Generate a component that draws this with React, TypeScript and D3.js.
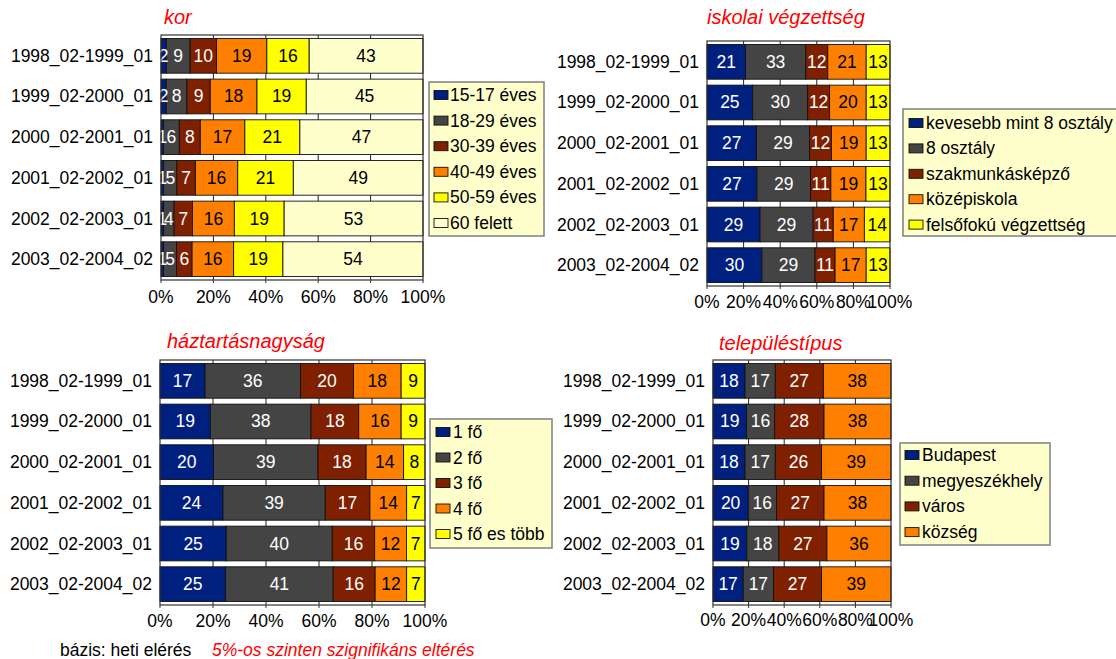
import React from "react";
import * as d3 from "d3";

const categories = [
  "1998_02-1999_01",
  "1999_02-2000_01",
  "2000_02-2001_01",
  "2001_02-2002_01",
  "2002_02-2003_01",
  "2003_02-2004_02",
];
const xTicks = [0, 0.2, 0.4, 0.6, 0.8, 1];

const korSeries = ["15-17 éves", "18-29 éves", "30-39 éves", "40-49 éves", "50-59 éves", "60 felett"];
const korValues = [
  [2, 9, 10, 19, 16, 43],
  [2, 8, 9, 18, 19, 45],
  [1, 6, 8, 17, 21, 47],
  [1, 5, 7, 16, 21, 49],
  [1, 4, 7, 16, 19, 53],
  [1, 5, 6, 16, 19, 54],
];

const iskolaSeries = ["kevesebb mint 8 osztály", "8 osztály", "szakmunkásképző", "középiskola", "felsőfokú végzettség"];
const iskolaValues = [
  [21, 33, 12, 21, 13],
  [25, 30, 12, 20, 13],
  [27, 29, 12, 19, 13],
  [27, 29, 11, 19, 13],
  [29, 29, 11, 17, 14],
  [30, 29, 11, 17, 13],
];

const haztartasSeries = ["1 fő", "2 fő", "3 fő", "4 fő", "5 fő es több"];
const haztartasValues = [
  [17, 36, 20, 18, 9],
  [19, 38, 18, 16, 9],
  [20, 39, 18, 14, 8],
  [24, 39, 17, 14, 7],
  [25, 40, 16, 12, 7],
  [25, 41, 16, 12, 7],
];

const telepulesSeries = ["Budapest", "megyeszékhely", "város", "község"];
const telepulesValues = [
  [18, 17, 27, 38],
  [19, 16, 28, 38],
  [18, 17, 26, 39],
  [20, 16, 27, 38],
  [19, 18, 27, 36],
  [17, 17, 27, 39],
];

const palette = ["#00207f", "#444444", "#7f2000", "#ff8000", "#ffff00", "#ffffcc"];
const labelColors = ["#ffffff", "#ffffff", "#ffffff", "#000000", "#000000", "#000000"];

const FONT = "'Liberation Sans', Arial, sans-serif";
const FS = 17.5;

type Layout = {
  px0: number; px1: number; py0: number; py1: number;
  titleX: number; titleY: number; catRight: number; axisY: number;
  lx: number; ly: number; lw: number; lh: number; lsx: number; ltx: number; lfirst: number; lstep: number;
};

function Panel({ title, series, values, layout }: { title: string; series: string[]; values: number[][]; layout: Layout }) {
  const L = layout;
  const x = d3.scaleLinear().domain([0, 1]).range([L.px0, L.px1]);
  const y = d3.scaleBand<string>().domain(categories).range([L.py0, L.py1]).paddingInner(0.146).paddingOuter(0.085);
  const keys = series.map((_, i) => String(i));
  const rows = values.map((r, ci) => {
    const o: any = { cat: categories[ci] };
    r.forEach((v, i) => (o[String(i)] = v));
    return o;
  });
  const stacked = d3.stack<any>().keys(keys).offset(d3.stackOffsetExpand)(rows);
  const bh = y.bandwidth();
  return (
    <g>
      <text x={L.titleX} y={L.titleY} fill="#ff0000" fontStyle="italic" fontSize={20} fontFamily={FONT} dominantBaseline="central">{title}</text>
      {categories.map((c) => (
        <text key={c} x={L.catRight} y={(y(c) as number) + bh / 2} textAnchor="end" dominantBaseline="central" fontSize={FS} fontFamily={FONT} fill="#000">{c}</text>
      ))}
      <rect x={L.px0} y={L.py0} width={L.px1 - L.px0} height={L.py1 - L.py0} fill="#fff" />
      {xTicks.slice(1, -1).map((t) => (
        <line key={t} x1={x(t)} x2={x(t)} y1={L.py0} y2={L.py1} stroke="#222" strokeWidth={1} />
      ))}
      {stacked.map((s, si) =>
        s.map((d, ci) => {
          const x0 = x(d[0]);
          const x1 = x(d[1]);
          const yy = y(categories[ci]) as number;
          return (
            <g key={`${si}-${ci}`}>
              <rect x={x0} y={yy} width={x1 - x0} height={bh} fill={palette[si]} stroke="#111" strokeWidth={0.9} />
            </g>
          );
        })
      )}
      {stacked.map((s, si) =>
        s.map((d, ci) => {
          const yy = y(categories[ci]) as number;
          return (
            <text key={`t${si}-${ci}`} x={(x(d[0]) + x(d[1])) / 2} y={yy + bh / 2} textAnchor="middle" dominantBaseline="central" fontSize={FS} fontFamily={FONT} fill={labelColors[si]}>
              {values[ci][si]}
            </text>
          );
        })
      )}
      <rect x={L.px0} y={L.py0} width={L.px1 - L.px0} height={L.py1 - L.py0} fill="none" stroke="#333" strokeWidth={1.2} />
      {xTicks.map((t) => (
        <line key={`k${t}`} x1={x(t)} x2={x(t)} y1={L.py1} y2={L.py1 + 3} stroke="#333" strokeWidth={1} />
      ))}
      {xTicks.map((t) => (
        <text key={`x${t}`} x={x(t)} y={L.axisY} textAnchor="middle" dominantBaseline="central" fontSize={FS} fontFamily={FONT} fill="#000">
          {d3.format(".0%")(t)}
        </text>
      ))}
      <rect x={L.lx} y={L.ly} width={L.lw} height={L.lh} fill="#ffffcc" stroke="#7f7f7f" strokeWidth={1.5} />
      {series.map((s, i) => (
        <g key={s}>
          <rect x={L.lsx} y={L.lfirst + i * L.lstep - 4.5} width={14} height={9} fill={palette[i]} stroke="#111" strokeWidth={0.9} />
          <text x={L.ltx} y={L.lfirst + i * L.lstep} dominantBaseline="central" fontSize={FS} fontFamily={FONT} fill="#000">{s}</text>
        </g>
      ))}
    </g>
  );
}

const korLayout: Layout = { px0: 161, px1: 423, py0: 35, py1: 280, titleX: 164, titleY: 17, catRight: 153, axisY: 297,
  lx: 429, ly: 82, lw: 115, lh: 154, lsx: 434, ltx: 450, lfirst: 95, lstep: 25.6 };
const iskolaLayout: Layout = { px0: 707, px1: 890, py0: 41, py1: 286, titleX: 707, titleY: 17, catRight: 699, axisY: 302,
  lx: 903, ly: 109, lw: 240, lh: 127, lsx: 909, ltx: 926, lfirst: 123, lstep: 25.4 };
const haztartasLayout: Layout = { px0: 160, px1: 425, py0: 360, py1: 605, titleX: 167, titleY: 341, catRight: 152, axisY: 621,
  lx: 430, ly: 419, lw: 122, lh: 129, lsx: 436, ltx: 453, lfirst: 432, lstep: 25.5 };
const telepulesLayout: Layout = { px0: 713, px1: 891, py0: 360, py1: 605, titleX: 719, titleY: 343, catRight: 705, axisY: 620,
  lx: 900, ly: 443, lw: 150, lh: 102, lsx: 905, ltx: 922, lfirst: 455, lstep: 25.7 };

export default function App() {
  return (
    <svg width={1116} height={659} style={{ position: "absolute", left: 0, top: 0, background: "#fff" }}>
      <rect width={1116} height={659} fill="#fff" />
      <Panel title="kor" series={korSeries} values={korValues} layout={korLayout} />
      <Panel title="iskolai végzettség" series={iskolaSeries} values={iskolaValues} layout={iskolaLayout} />
      <Panel title="háztartásnagyság" series={haztartasSeries} values={haztartasValues} layout={haztartasLayout} />
      <Panel title="településtípus" series={telepulesSeries} values={telepulesValues} layout={telepulesLayout} />
      <text x={60} y={650} dominantBaseline="central" fontSize={FS} fontFamily={FONT} fill="#000">bázis: heti elérés</text>
      <text x={212} y={650} dominantBaseline="central" fontSize={FS} fontFamily={FONT} fontStyle="italic" fill="#ff0000">5%-os szinten szignifikáns eltérés</text>
    </svg>
  );
}
